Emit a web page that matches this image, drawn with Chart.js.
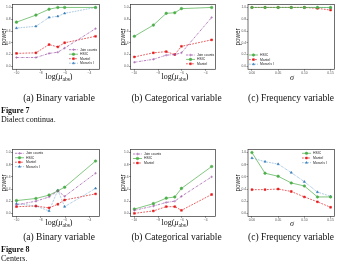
<!DOCTYPE html>
<html><head><meta charset="utf-8">
<script src="https://cdn.jsdelivr.net/npm/chart.js@4.4.0/dist/chart.umd.min.js"></script>
<style>
html,body{margin:0;padding:0;background:#fff;width:339px;height:275px;overflow:hidden;position:relative}
canvas{position:absolute}
.t{position:absolute;white-space:nowrap;line-height:1;font-family:"Liberation Serif",serif;color:#111;transform:translate(-50%,-50%)}
.l{position:absolute;white-space:nowrap;line-height:1;font-family:"Liberation Serif",serif;color:#111;transform:translateY(-50%)}
sub{font-size:5.5px;vertical-align:-1.5px;line-height:0}
</style></head><body>
<script>
// ---- data ----
const muTicks = [-10, -8, -6, -4];
const logMu = [-10, -8.4, -7.32, -6.6, -6.04, -3.5];
const sigmaTicks = [0, 0.05, 0.10, 0.15];
const sigma = [0, 0.025, 0.05, 0.075, 0.1, 0.125, 0.15];
const powerTicks = [0, 0.2, 0.4, 0.6, 0.8, 1.0];

// Figure 7 (dialect continua)
const f7aJoin   = [0.15, 0.15, 0.22, 0.24, 0.31, 0.64];
const f7aHSIC   = [0.75, 0.87, 0.97, 1.00, 1.00, 1.00];
const f7aMantel = [0.22, 0.23, 0.37, 0.33, 0.40, 0.51];
const f7aMoran  = [0.65, 0.68, 0.83, 0.85, 0.90, 1.00];
const f7bJoin   = [0.07, 0.12, 0.19, 0.20, 0.23, 0.83];
const f7bHSIC   = [0.51, 0.70, 0.90, 0.91, 0.98, 1.00];
const f7bMantel = [0.16, 0.23, 0.25, 0.20, 0.34, 0.45];
const f7cHSIC   = [1, 1, 1, 1, 1, 1, 1];
const f7cMantel = [1, 1, 1, 1, 1, 0.985, 0.955];
const f7cMoran  = [1, 1, 1, 1, 1, 1, 0.995];
// Figure 8 (centers)
const f8aJoin   = [0.14, 0.20, 0.27, 0.37, 0.28, 0.66];
const f8aHSIC   = [0.21, 0.245, 0.30, 0.37, 0.43, 0.86];
const f8aMantel = [0.11, 0.12, 0.09, 0.15, 0.22, 0.32];
const f8aMoran  = [0.16, 0.12, 0.04, 0.38, 0.11, 0.41];
const f8bJoin   = [0.05, 0.12, 0.18, 0.20, 0.28, 0.60];
const f8bHSIC   = [0.07, 0.16, 0.25, 0.27, 0.41, 0.77];
const f8bMantel = [0.00, 0.04, 0.11, 0.11, 0.05, 0.31];
const f8cHSIC   = [1.00, 0.66, 0.61, 0.50, 0.45, 0.27, 0.27];
const f8cMantel = [0.39, 0.39, 0.40, 0.36, 0.27, 0.19, 0.10];
const f8cMoran  = [0.91, 0.85, 0.81, 0.67, 0.52, 0.35, 0.28];

// ---- styles ----
const STY = {
  join:   {label:'Join counts', color:'#984ea3', dash:[2.4,0.9,0.6,0.9], point:'cross'},
  hsic:   {label:'HSIC',        color:'#4daf4a', dash:[],               point:'circle'},
  mantel: {label:'Mantel',      color:'#e41a1c', dash:[1.8,1.2],        point:'rect'},
  moran:  {label:"Moran's I",   color:'#377eb8', dash:[0.6,1],          point:'triangle'}
};
function ds(key, xs, ys){
  const s = STY[key];
  return {label:s.label, data:xs.map((x,i)=>({x:x, y:ys[i]})), borderColor:s.color, backgroundColor:s.color,
    borderWidth:0.7, borderDash:s.dash, pointStyle:s.point, pointRadius:1.3, pointBorderWidth:0.5,
    pointBorderColor:s.color, pointBackgroundColor:s.color, tension:0, fill:false};
}

const innerLegend = {
  id:'innerLegend',
  afterDatasetsDraw(chart, args, o){
    if (!o || o.x === undefined) return;
    const ctx = chart.ctx;
    ctx.save();
    chart.data.datasets.forEach((d,i)=>{
      const y = o.y + i*o.dy;
      ctx.strokeStyle = d.borderColor; ctx.lineWidth = d.borderWidth; ctx.setLineDash(d.borderDash||[]);
      ctx.beginPath(); ctx.moveTo(o.x, y); ctx.lineTo(o.x+o.w, y); ctx.stroke();
      ctx.setLineDash([]);
      ctx.fillStyle = d.borderColor; ctx.strokeStyle = d.borderColor; ctx.lineWidth = d.pointBorderWidth;
      Chart.helpers.drawPoint(ctx, {pointStyle:d.pointStyle, radius:d.pointRadius, borderWidth:d.pointBorderWidth, rotation:0}, o.x+o.w/2, y);
      ctx.fillStyle = '#222'; ctx.font = o.size + 'px "Liberation Sans"'; ctx.textBaseline = 'middle'; ctx.textAlign = 'left';
      ctx.fillText(d.label, o.x+o.w+o.gap, y);
    });
    ctx.restore();
  }
};
const frame = {
  id:'frame',
  afterDraw(chart){
    const {ctx, chartArea:a} = chart;
    ctx.save(); ctx.strokeStyle = '#333'; ctx.lineWidth = 0.7;
    ctx.strokeRect(a.left, a.top, a.right-a.left, a.bottom-a.top); ctx.restore();
  }
};
Chart.register(innerLegend, frame);

const fmtMu = v => String(v).replace('-', '\u2212');
const fmtSigma = v => v.toFixed(2);
const MU = {min:-10.325, max:-3.175, ticks:muTicks, fmt:fmtMu};
const SG = {min:-0.0075, max:0.1575, ticks:sigmaTicks, fmt:fmtSigma};

function makeChart(g, xc, datasets, leg){
  const c = document.createElement('canvas');
  c.width = g.w; c.height = g.h;
  c.style.left = g.left + 'px'; c.style.top = g.top + 'px';
  c.style.width = g.w + 'px'; c.style.height = g.h + 'px';
  document.body.appendChild(c);
  const tickFont = {size:3.3, family:'Liberation Sans'};
  new Chart(c, {
    type:'line',
    data:{datasets},
    options:{
      responsive:false, animation:false, devicePixelRatio:1,
      layout:{padding:{top:g.padTop, right:g.padRight, left:0, bottom:0}},
      plugins:{legend:{display:false}, tooltip:{enabled:false}, innerLegend:leg},
      scales:{
        x:{type:'linear', min:xc.min, max:xc.max,
          afterBuildTicks:s=>{s.ticks = xc.ticks.map(v=>({value:v}));},
          ticks:{callback:v=>xc.fmt(v), font:tickFont, color:'#555', padding:0.5, maxRotation:0, minRotation:0, autoSkip:false},
          grid:{display:true, drawOnChartArea:false, tickLength:1.5, color:'#444', lineWidth:0.5},
          border:{display:false},
          afterFit:s=>{s.height = g.xH;}},
        y:{type:'linear', min:-0.05, max:1.05,
          afterBuildTicks:s=>{s.ticks = powerTicks.map(v=>({value:v}));},
          ticks:{callback:v=>v.toFixed(1), font:tickFont, color:'#555', padding:0.5, autoSkip:false},
          grid:{display:true, drawOnChartArea:false, tickLength:1.5, color:'#444', lineWidth:0.5},
          border:{display:false},
          title:{display:true, text:'power', color:'#111', font:{size:6.3, family:'Liberation Sans', lineHeight:1}, padding:{top:0.8, bottom:0}},
          afterFit:s=>{s.width = g.yW;}}
      }
    }
  });
}

const colA = {left:0,   w:104, yW:12.5, padRight:1.5};
const colB = {left:119, w:101, yW:11.5, padRight:1};
const colC = {left:234, w:105, yW:14,   padRight:3};
const rowT = {top:0,   h:76, padTop:2.3, xH:6.7};
const rowB = {top:145, h:78, padTop:2.7, xH:6.6};
const G = (c,r)=>Object.assign({}, c, r);

// Figure 7
makeChart(G(colA,rowT), MU, [ds('join',logMu,f7aJoin), ds('hsic',logMu,f7aHSIC), ds('mantel',logMu,f7aMantel), ds('moran',logMu,f7aMoran)],
  {x:69, y:49.7, dy:4.5, w:9, gap:2, size:3.4});
makeChart(G(colB,rowT), MU, [ds('join',logMu,f7bJoin), ds('hsic',logMu,f7bHSIC), ds('mantel',logMu,f7bMantel)],
  {x:67, y:55, dy:4.4, w:9, gap:2, size:3.4});
makeChart(G(colC,rowT), SG, [ds('hsic',sigma,f7cHSIC), ds('mantel',sigma,f7cMantel), ds('moran',sigma,f7cMoran)],
  {x:15, y:55, dy:4.6, w:9, gap:2, size:3.4});
// Figure 8
makeChart(G(colA,rowB), MU, [ds('join',logMu,f8aJoin), ds('hsic',logMu,f8aHSIC), ds('mantel',logMu,f8aMantel), ds('moran',logMu,f8aMoran)],
  {x:15, y:8.3, dy:4.45, w:9, gap:2, size:3.4});
makeChart(G(colB,rowB), MU, [ds('join',logMu,f8bJoin), ds('hsic',logMu,f8bHSIC), ds('mantel',logMu,f8bMantel)],
  {x:14, y:9, dy:4.5, w:9, gap:2, size:3.4});
makeChart(G(colC,rowB), SG, [ds('hsic',sigma,f8cHSIC), ds('mantel',sigma,f8cMantel), ds('moran',sigma,f8cMoran)],
  {x:68, y:8.3, dy:4.7, w:9, gap:2, size:3.4});

// ---- texts ----
function txt(cls, x, y, html, style){
  const d = document.createElement('div');
  d.className = cls; d.style.left = x + 'px'; d.style.top = y + 'px';
  d.style.cssText += ';' + (style||'');
  d.innerHTML = html; document.body.appendChild(d);
}
const muLab = 'log(<i>μ</i><sub>abs</sub>)';
txt('t', 59, 77, muLab, 'font-size:8px');
txt('t', 175, 77, muLab, 'font-size:8px');
txt('t', 292, 77.5, '<i>σ</i>', 'font-size:8px');
txt('t', 59, 223.3, muLab, 'font-size:8px');
txt('t', 175, 223, muLab, 'font-size:8px');
txt('t', 292, 223.5, '<i>σ</i>', 'font-size:8px');

txt('t', 59, 99.3, '(a) Binary variable', 'font-size:9.5px');
txt('t', 176.5, 99.3, '(b) Categorical variable', 'font-size:9.5px');
txt('t', 291, 99.3, '(c) Frequency variable', 'font-size:9.5px');
txt('t', 59, 238.3, '(a) Binary variable', 'font-size:9.5px');
txt('t', 176.5, 238.3, '(b) Categorical variable', 'font-size:9.5px');
txt('t', 291, 238.3, '(c) Frequency variable', 'font-size:9.5px');

txt('l', 1, 110.5, '<b>Figure 7</b>', 'font-size:8px');
txt('l', 1, 119.5, 'Dialect continua.', 'font-size:8px');
txt('l', 1, 249.5, '<b>Figure 8</b>', 'font-size:8px');
txt('l', 1, 258.5, 'Centers.', 'font-size:8px');
</script>
</body></html>
